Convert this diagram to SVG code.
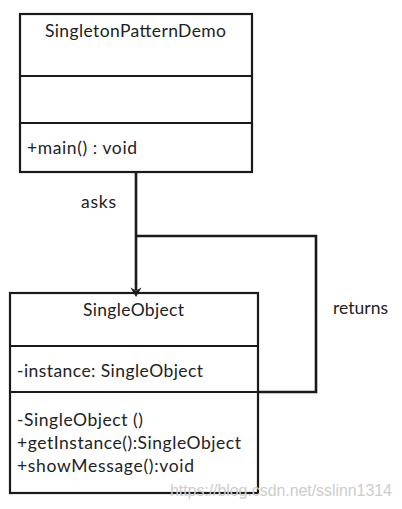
<svg xmlns="http://www.w3.org/2000/svg" width="402" height="509" viewBox="0 0 402 509">
  <style>
    .box { fill: #ffffff; stroke: #1a1a1a; stroke-width: 2.2; }
    .div { stroke: #1a1a1a; stroke-width: 2; fill: none; }
    .conn { stroke: #1a1a1a; stroke-width: 2.6; fill: none; }
    .t { font-family: Lato, "Open Sans", "Liberation Sans", sans-serif; font-size: 17.5px; fill: #222222; }
    .wm { font-family: "Liberation Sans", Arial, sans-serif; font-size: 16px; fill: #cdcdcd; }
  </style>
  <rect x="0" y="0" width="402" height="509" fill="#ffffff"/>

  <g id="SingletonPatternDemo">
    <rect class="box" x="20" y="14" width="232" height="158"/>
    <line class="div" x1="20" y1="76" x2="252" y2="76"/>
    <line class="div" x1="20" y1="123" x2="252" y2="123"/>
    <text class="t" x="45" y="37" textLength="181">SingletonPatternDemo</text>
    <text class="t" x="27" y="154" textLength="110">+main() : void</text>
  </g>

  <g id="SingleObject">
    <rect class="box" x="10" y="293" width="248" height="200"/>
    <line class="div" x1="10" y1="346" x2="258" y2="346"/>
    <line class="div" x1="10" y1="392" x2="258" y2="392"/>
    <text class="t" x="83" y="316" textLength="101">SingleObject</text>
    <text class="t" x="17" y="377" textLength="186">-instance: SingleObject</text>
    <text class="t" x="17" y="426" textLength="126">-SingleObject ()</text>
    <text class="t" x="17" y="449" textLength="224">+getInstance():SingleObject</text>
    <text class="t" x="17" y="472" textLength="177">+showMessage():void</text>
  </g>

  <g id="connectors">
    <path class="conn" d="M136,172 V290"/>
    <path d="M130.5,287.5 L136,297 L141.5,287.5 L136,290.5 Z" fill="#1a1a1a"/>
    <path class="conn" d="M136,236 H316 V392 H258"/>
    <text class="t" x="81" y="208" textLength="35">asks</text>
    <text class="t" x="333" y="314" textLength="55">returns</text>
  </g>

  <text class="wm" x="170" y="496" textLength="222">https://blog.csdn.net/sslinn1314</text>
</svg>
